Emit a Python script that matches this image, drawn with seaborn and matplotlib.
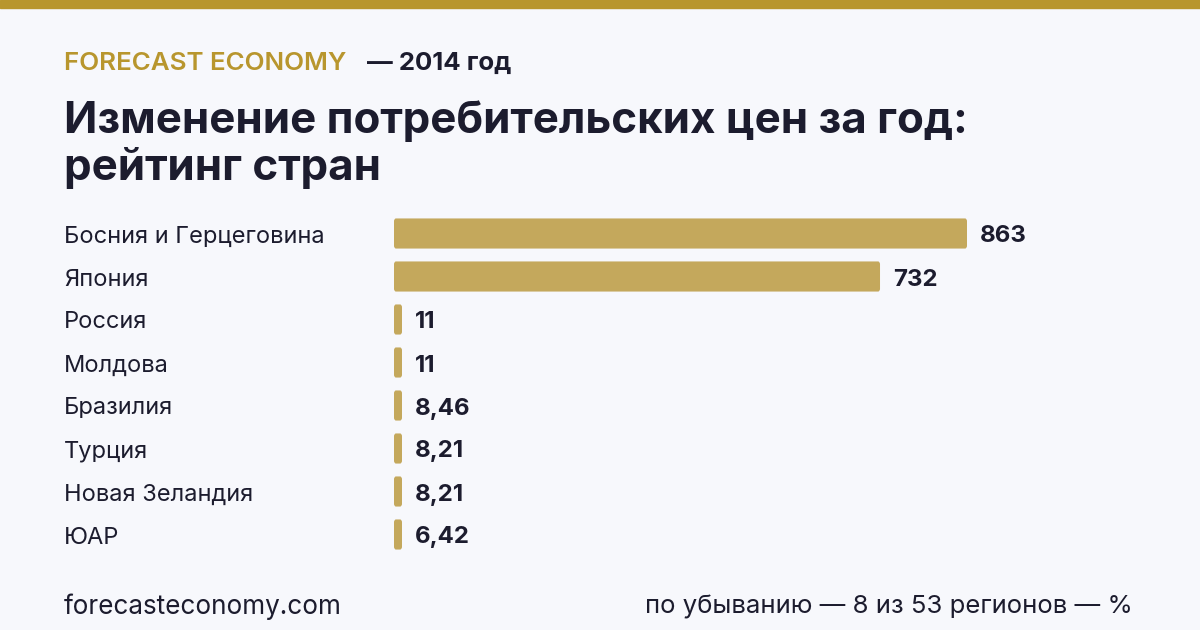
import pandas as pd
import seaborn as sns
import matplotlib
matplotlib.use("Agg")
from matplotlib import pyplot as plt
from matplotlib import transforms
from matplotlib.patches import FancyBboxPatch, Rectangle

# data
countries = ["Босния и Герцеговина", "Япония", "Россия", "Молдова",
             "Бразилия", "Турция", "Новая Зеландия", "ЮАР"]
values = [863, 732, 11, 11, 8.46, 8.21, 8.21, 6.42]
value_labels = ["863", "732", "11", "11", "8,46", "8,21", "8,21", "6,42"]

BG = "#f7f8fc"
GOLD = "#b8962e"
BAR = "#c4a85c"
DARK = "#1c1c2e"

sns.set_theme(style="white")
plt.rcParams['font.family'] = ['Inter', 'DejaVu Sans']

df = pd.DataFrame({"country": countries, "value": values})

fig = plt.figure(figsize=(12, 6.3), dpi=100, facecolor=BG)
# top gold strip
fig.patches.append(Rectangle((0, 1 - 8 / 630), 1, 8 / 630, transform=fig.transFigure,
                             color=GOLD, zorder=0))

ax_left, ax_right = 394 / 1200, 1140 / 1200
ax_top, ax_bot = 1 - 212 / 630, 1 - 556 / 630
ax = fig.add_axes([ax_left, ax_bot, ax_right - ax_left, ax_top - ax_bot])
ax.set_facecolor(BG)

sns.barplot(data=df, x="value", y="country", orient="h", color=BAR,
            width=0.7, ax=ax, saturation=1)

xmax = 863 * 746 / 573
ax.set_xlim(0, xmax)
ax.set_ylim(7.5, -0.5)
min_w = xmax * 8 / 746

# swap plain bars for rounded ones
for p in list(ax.patches):
    x, y, w, h = p.get_x(), p.get_y(), p.get_width(), p.get_height()
    p.remove()
    w = max(w, min_w)
    ax.add_patch(FancyBboxPatch((x, y), w, h,
                                boxstyle="round,pad=0,rounding_size=3",
                                mutation_aspect=h / 30,
                                facecolor=BAR, edgecolor="none"))

# text sits a couple of pixels under the bar centre
down = transforms.ScaledTranslation(0, -3 / 100, fig.dpi_scale_trans)
px = xmax / 746
for i, (v, lab, name) in enumerate(zip(values, value_labels, countries)):
    end = max(v, min_w)
    ax.text(end + 13 * px, i, lab, va="center", ha="left", fontsize=17.3,
            fontweight="bold", color=DARK, transform=ax.transData + down)
    ax.text(-(394 - 64) / 746, i, name, transform=ax.get_yaxis_transform() + down,
            va="center", ha="left", fontsize=17, color=DARK)

ax.set_xlabel("")
ax.set_ylabel("")
ax.set_xticks([])
ax.set_yticks([])
sns.despine(ax=ax, left=True, bottom=True)

# header
fig.text(64 / 1200, 1 - 63 / 630, "FORECAST ECONOMY", color=GOLD, fontsize=18.7,
         fontweight="semibold", va="center", ha="left")
fig.text(367 / 1200, 1 - 63 / 630, "— 2014 год", color=DARK, fontsize=18.5,
         fontweight="bold", va="center", ha="left")
fig.text(64 / 1200, 1 - 121 / 630, "Изменение потребительских цен за год:", color=DARK,
         fontsize=31.6, fontweight="bold", va="center", ha="left")
fig.text(64 / 1200, 1 - 168 / 630, "рейтинг стран", color=DARK,
         fontsize=31.6, fontweight="bold", va="center", ha="left")

# footer
fig.text(64 / 1200, 1 - 607 / 630, "forecasteconomy.com", color=DARK, fontsize=18.8,
         va="center", ha="left")
fig.text(1133 / 1200, 1 - 607 / 630, "по убыванию — 8 из 53 регионов — %", color=DARK,
         fontsize=18.5, va="center", ha="right")

fig.savefig("out.png", dpi=100, facecolor=BG)
